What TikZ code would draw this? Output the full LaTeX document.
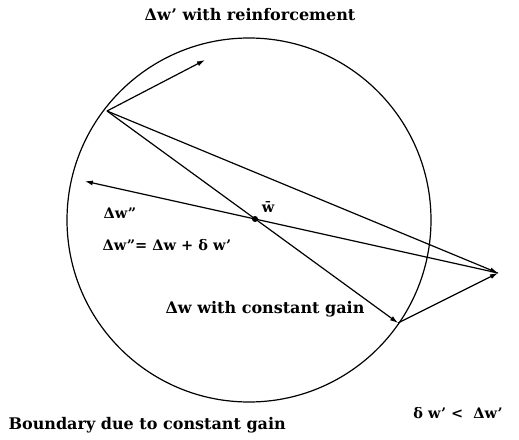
\documentclass[tikz,border=0pt]{standalone}
\usepackage{fontspec}
\setmainfont{DejaVu Serif}
\usetikzlibrary{arrows.meta,calc}
\begin{document}
\begin{tikzpicture}[x=1pt,y=-1pt,line width=1.2pt,
  vec/.style={-{Latex[length=8pt,width=5pt]}},
  lbl/.style={font=\bfseries\fontsize{16}{18}\selectfont,inner sep=0pt},
  lbls/.style={font=\bfseries\fontsize{14.5}{17}\selectfont,inner sep=0pt}]
\useasboundingbox (0,0) rectangle (519,439);
\node[draw,circle,minimum size=364pt,line width=1.2pt,inner sep=0pt] (C) at (249,220) {};
\coordinate (P) at (107,111);
\coordinate (Q) at (398,323);
\coordinate (R) at (498,273);
\coordinate (W) at (255,219);
\coordinate (A) at (205,60);
\coordinate (L) at ($(R)!1.7!(W)$);
\fill (W) circle[radius=3];
\draw[vec] (P) -- (A);
\draw[vec] (P) -- (R);
\draw[vec] (P) -- (Q);
\draw[vec] (Q) -- (R);
\draw[vec] (R) -- (L);
\node[lbl] (t1) at (250,15) {Δw’ with reinforcement};
\node[lbls,anchor=west] (t2) at (103,213) {Δw”};
\node[lbls,anchor=west] (t3) at (102,245) {Δw”= Δw + δ w’};
\node[lbls] (t4) at (268,207) {\=w};
\node[lbl] (t5) at (265,309) {Δw with constant gain};
\node[lbl,anchor=west] (t6) at (8,425) {Boundary due to constant gain};
\node[lbls] (t7) at (458,413) {δ w’ <\ \ Δw’};
\end{tikzpicture}
\end{document}
